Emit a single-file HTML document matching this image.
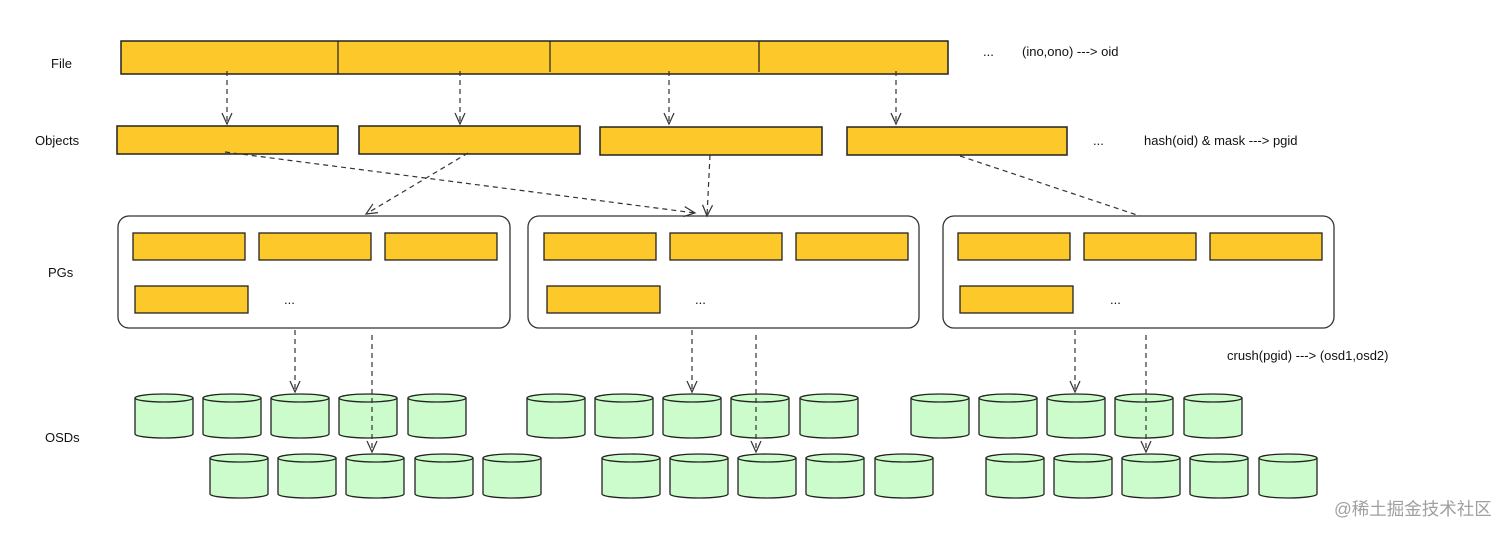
<!DOCTYPE html>
<html><head><meta charset="utf-8"><style>
html,body{margin:0;padding:0;background:#fff;width:1512px;height:535px;overflow:hidden}
svg text{font-family:"Liberation Sans","Noto Sans CJK SC",sans-serif;font-size:13px;fill:#111}
</style></head><body>
<svg width="1512" height="535" xmlns="http://www.w3.org/2000/svg">
<defs>
<marker id="a" markerWidth="14" markerHeight="14" refX="12" refY="6" orient="auto" markerUnits="userSpaceOnUse">
<path d="M1,1 L12,6 L1,11" fill="none" stroke="#333" stroke-width="1.2"/></marker>
<g id="cyl">
<path d="M0,4 L0,40 A29,4 0 0 0 58,40 L58,4" fill="#ccfccc" stroke="#222" stroke-width="1.3"/>
<ellipse cx="29" cy="4" rx="29" ry="4" fill="#ccfccc" stroke="#222" stroke-width="1.3"/>
</g>
</defs>
<g fill="#fdc82a" stroke="#222" stroke-width="1.5">
<rect x="121" y="41" width="827" height="33"/>
<rect x="117" y="126" width="221" height="28"/>
<rect x="359" y="126" width="221" height="28"/>
<rect x="600" y="127" width="222" height="28"/>
<rect x="847" y="127" width="220" height="28"/>
</g>
<g stroke="#222" stroke-width="1.2"><line x1="338" y1="41" x2="338" y2="74"/><line x1="550" y1="41" x2="550" y2="72"/><line x1="759" y1="41" x2="759" y2="72"/></g>
<g fill="#fff" stroke="#333" stroke-width="1.3">
<rect x="118" y="216" width="392" height="112" rx="11"/>
<rect x="528" y="216" width="391" height="112" rx="11"/>
<rect x="943" y="216" width="391" height="112" rx="11"/>
</g>
<g fill="#fdc82a" stroke="#222" stroke-width="1.3">
<rect x="133" y="233" width="112" height="27"/><rect x="259" y="233" width="112" height="27"/><rect x="385" y="233" width="112" height="27"/><rect x="135" y="286" width="113" height="27"/>
<rect x="544" y="233" width="112" height="27"/><rect x="670" y="233" width="112" height="27"/><rect x="796" y="233" width="112" height="27"/><rect x="547" y="286" width="113" height="27"/>
<rect x="958" y="233" width="112" height="27"/><rect x="1084" y="233" width="112" height="27"/><rect x="1210" y="233" width="112" height="27"/><rect x="960" y="286" width="113" height="27"/>
</g>
<g>
<use href="#cyl" x="135" y="394"/><use href="#cyl" x="203" y="394"/><use href="#cyl" x="271" y="394"/><use href="#cyl" x="339" y="394"/><use href="#cyl" x="408" y="394"/>
<use href="#cyl" x="210" y="454"/><use href="#cyl" x="278" y="454"/><use href="#cyl" x="346" y="454"/><use href="#cyl" x="415" y="454"/><use href="#cyl" x="483" y="454"/>
<use href="#cyl" x="527" y="394"/><use href="#cyl" x="595" y="394"/><use href="#cyl" x="663" y="394"/><use href="#cyl" x="731" y="394"/><use href="#cyl" x="800" y="394"/>
<use href="#cyl" x="602" y="454"/><use href="#cyl" x="670" y="454"/><use href="#cyl" x="738" y="454"/><use href="#cyl" x="806" y="454"/><use href="#cyl" x="875" y="454"/>
<use href="#cyl" x="911" y="394"/><use href="#cyl" x="979" y="394"/><use href="#cyl" x="1047" y="394"/><use href="#cyl" x="1115" y="394"/><use href="#cyl" x="1184" y="394"/>
<use href="#cyl" x="986" y="454"/><use href="#cyl" x="1054" y="454"/><use href="#cyl" x="1122" y="454"/><use href="#cyl" x="1190" y="454"/><use href="#cyl" x="1259" y="454"/>
</g>
<g stroke="#333" stroke-width="1.2" stroke-dasharray="5,4" fill="none" marker-end="url(#a)">
<line x1="227" y1="71" x2="227" y2="124"/><line x1="460" y1="71" x2="460" y2="124"/><line x1="669" y1="71" x2="669" y2="124"/><line x1="896" y1="71" x2="896" y2="124"/>
<line x1="225" y1="152" x2="695" y2="213"/>
<line x1="468" y1="153" x2="366" y2="214"/>
<line x1="710" y1="155" x2="707" y2="216"/>
<line x1="295" y1="330" x2="295" y2="392"/><line x1="372" y1="335" x2="372" y2="452"/>
<line x1="692" y1="330" x2="692" y2="392"/><line x1="756" y1="335" x2="756" y2="452"/>
<line x1="1075" y1="330" x2="1075" y2="392"/><line x1="1146" y1="335" x2="1146" y2="452"/>
</g>
<line x1="960" y1="156" x2="1140" y2="216" stroke="#333" stroke-width="1.2" stroke-dasharray="5,4"/>
<text x="51" y="68">File</text>
<text x="35" y="145">Objects</text>
<text x="48" y="277">PGs</text>
<text x="45" y="442">OSDs</text>
<text x="284" y="304">...</text><text x="695" y="304">...</text><text x="1110" y="304">...</text>
<text x="983" y="56">...</text><text x="1022" y="56">(ino,ono) ---&gt; oid</text>
<text x="1093" y="145">...</text><text x="1144" y="145">hash(oid) &amp; mask ---&gt; pgid</text>
<text x="1227" y="360">crush(pgid) ---&gt; (osd1,osd2)</text>
<text x="1334" y="515" style="fill:#a0a0a0;font-size:17.5px">@稀土掘金技术社区</text>
</svg>
</body></html>
